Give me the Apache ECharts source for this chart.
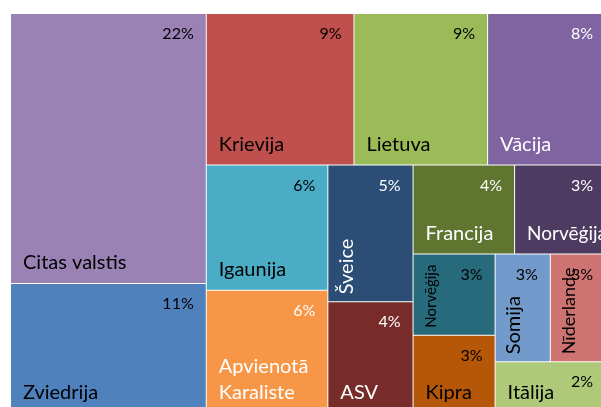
<!DOCTYPE html>
<html>
<head>
<meta charset="utf-8">
<script src="https://cdn.jsdelivr.net/npm/echarts@6/dist/echarts.min.js"></script>
<style>
  html, body { margin: 0; padding: 0; background: #fff; }
  #main { width: 601px; height: 407px; }
</style>
</head>
<body>
<div id="main"></div>
<script>
// share of each country (%)
var countries = ['Citas valstis', 'Zviedrija', 'Krievija', 'Lietuva', 'Vācija', 'Igaunija',
  'Apvienotā\nKaraliste', 'Šveice', 'ASV', 'Francija', 'Norvēģija', 'Norvēģija', 'Kipra',
  'Somija', 'Nīderlande', 'Itālija'];
var shares = [22.2, 10.7, 9.4, 8.5, 7.5, 6.4, 6.3, 4.9, 4.0, 3.8, 3.4, 2.8, 2.7, 2.5, 2.5, 2.4];
var pctLabels = ['22%', '11%', '9%', '9%', '8%', '6%', '6%', '5%', '4%', '4%', '3%', '3%', '3%',
  '3%', '3%', '2%'];

// styles
var cellColors = ['#9A82B5', '#4F81BD', '#C0504D', '#9BBB59', '#8064A2', '#4BACC6', '#F79646',
  '#2C4D75', '#772C2A', '#5F7530', '#4D3B62', '#276A7C', '#B65708', '#729ACA', '#CD7371', '#AFC97A'];
var textColors = ['#000', '#000', '#000', '#000', '#fff', '#000', '#fff', '#fff', '#fff', '#fff',
  '#fff', '#000', '#000', '#000', '#000', '#000'];
var rotated = [false, false, false, false, false, false, false, true, false, false, false, true,
  false, true, true, false];
var nameSizes = [20, 20, 20, 20, 20, 20, 20, 20, 20, 20, 19, 15, 20, 20, 18, 20];

var chart = echarts.init(document.getElementById('main'), null, { renderer: 'canvas' });

function nameData() {
  return countries.map(function (name, i) {
    var label = { color: textColors[i], fontSize: nameSizes[i] };
    if (rotated[i]) {
      label.rotate = 90;
      label.verticalAlign = 'top';
      label.padding = [5, 0, 0, 7];
    }
    return {
      name: name,
      value: shares[i],
      itemStyle: { color: cellColors[i] },
      label: label
    };
  });
}

function pctData() {
  return countries.map(function (name, i) {
    return {
      name: name,
      value: shares[i],
      itemStyle: { color: 'rgba(0,0,0,0)', borderColor: 'rgba(0,0,0,0)' },
      label: { formatter: pctLabels[i], color: textColors[i] }
    };
  });
}

// same layout for both series, second one only carries the percentages
var common = {
  type: 'treemap',
  left: 10,
  top: 13,
  width: 596,
  height: 401,
  sort: false,
  squareRatio: 0.99,
  roam: false,
  nodeClick: false,
  breadcrumb: { show: false },
  emphasis: { disabled: true }
};

var option = {
  animation: false,
  textStyle: { fontFamily: 'Lato' },
  series: [
    Object.assign({}, common, {
      itemStyle: { borderWidth: 0.5, borderColor: '#fff', gapWidth: 0 },
      label: {
        show: true,
        position: 'insideBottomLeft',
        distance: 0,
        padding: [0, 0, 7, 12],
        fontFamily: 'Lato',
        fontSize: 20,
        lineHeight: 26,
        overflow: 'none'
      },
      data: nameData()
    }),
    Object.assign({}, common, {
      silent: true,
      levels: [{ itemStyle: { color: 'rgba(0,0,0,0)', borderColor: 'rgba(0,0,0,0)' } }],
      itemStyle: { borderWidth: 0.5, gapWidth: 0 },
      label: {
        show: true,
        position: 'insideTopRight',
        distance: 0,
        padding: [12, 12, 0, 0],
        fontFamily: 'Lato',
        fontSize: 16,
        overflow: 'none'
      },
      data: pctData()
    })
  ]
};

chart.setOption(option);
</script>
</body>
</html>
